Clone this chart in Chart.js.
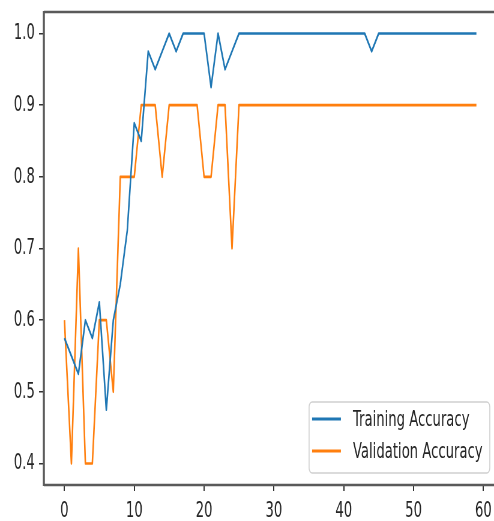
<!DOCTYPE html>
<html>
<head>
<meta charset="utf-8">
<script src="https://cdn.jsdelivr.net/npm/chart.js@4.4.0/dist/chart.umd.min.js"></script>
<style>
html, body { margin: 0; padding: 0; background: #fff; overflow: hidden; }
#box { width: 494px; height: 521px; overflow: hidden; position: relative; }
/* the reference is a horizontally squeezed plot, so draw wide and squeeze to 494px */
#acc { display: block; transform: scaleX(0.60024); transform-origin: 0 0; }
</style>
</head>
<body>
<div id="box"><canvas id="acc" width="823" height="521"></canvas></div>
<script>
var epochs = [0, 1, 2, 3, 4, 5, 6, 7, 8, 9, 10, 11, 12, 13, 14, 15, 16, 17, 18, 19,
  20, 21, 22, 23, 24, 25, 26, 27, 28, 29, 30, 31, 32, 33, 34, 35, 36, 37, 38, 39,
  40, 41, 42, 43, 44, 45, 46, 47, 48, 49, 50, 51, 52, 53, 54, 55, 56, 57, 58, 59];

var trainAcc = [0.575, 0.55, 0.525, 0.6, 0.575, 0.625, 0.475, 0.6, 0.65, 0.725,
  0.875, 0.85, 0.975, 0.95, 0.975, 1.0, 0.975, 1.0, 1.0, 1.0,
  1.0, 0.925, 1.0, 0.95, 0.975, 1.0, 1.0, 1.0, 1.0, 1.0,
  1.0, 1.0, 1.0, 1.0, 1.0, 1.0, 1.0, 1.0, 1.0, 1.0,
  1.0, 1.0, 1.0, 1.0, 0.975, 1.0, 1.0, 1.0, 1.0, 1.0,
  1.0, 1.0, 1.0, 1.0, 1.0, 1.0, 1.0, 1.0, 1.0, 1.0];

var valAcc = [0.6, 0.4, 0.7, 0.4, 0.4, 0.6, 0.6, 0.5, 0.8, 0.8,
  0.8, 0.9, 0.9, 0.9, 0.8, 0.9, 0.9, 0.9, 0.9, 0.9,
  0.8, 0.8, 0.9, 0.9, 0.7, 0.9, 0.9, 0.9, 0.9, 0.9,
  0.9, 0.9, 0.9, 0.9, 0.9, 0.9, 0.9, 0.9, 0.9, 0.9,
  0.9, 0.9, 0.9, 0.9, 0.9, 0.9, 0.9, 0.9, 0.9, 0.9,
  0.9, 0.9, 0.9, 0.9, 0.9, 0.9, 0.9, 0.9, 0.9, 0.9];

var xTicks = [0, 10, 20, 30, 40, 50, 60];
var yTicks = [0.4, 0.5, 0.6, 0.7, 0.8, 0.9, 1.0];

var FONT = { family: 'DejaVu Sans', size: 22 };
var TEXT = '#262626';

function points(ys) {
  return epochs.map(function (e, i) { return { x: e, y: ys[i] }; });
}

function noPad(s) {
  s.paddingTop = 0; s.paddingBottom = 0;
  s.paddingLeft = 0; s.paddingRight = 0;
}

// matplotlib style spines (the right one falls outside the picture)
var frame = {
  id: 'frame',
  afterDatasetsDraw: function (chart) {
    var a = chart.chartArea, c = chart.ctx;
    c.save();
    c.strokeStyle = '#5a5a5a';
    c.lineWidth = 2.5;
    c.beginPath();
    c.moveTo(a.left, a.top); c.lineTo(a.right, a.top);
    c.moveTo(a.left, a.bottom); c.lineTo(a.right, a.bottom);
    c.stroke();
    c.lineWidth = 3.5;
    c.beginPath();
    c.moveTo(a.left, a.top - 1); c.lineTo(a.left, a.bottom + 1);
    c.stroke();
    c.restore();
  }
};

// legend box in the lower right corner of the axes
var boxLegend = {
  id: 'boxLegend',
  afterDraw: function (chart) {
    var a = chart.chartArea, c = chart.ctx;
    var sets = chart.data.datasets;
    c.save();
    c.font = FONT.size + 'px ' + FONT.family;
    var tw = 0;
    sets.forEach(function (d) { tw = Math.max(tw, c.measureText(d.label).width); });
    var w = 73 + tw + 12, h = 71;
    var x = a.right - 7 - w, y = a.bottom - 12 - h;
    c.beginPath();
    c.roundRect(x, y, w, h, 5);
    c.fillStyle = 'rgba(255,255,255,0.85)';
    c.fill();
    c.strokeStyle = '#d0d0d0';
    c.lineWidth = 1.6;
    c.stroke();
    sets.forEach(function (d, i) {
      var ry = y + 17 + i * 32;
      c.strokeStyle = d.borderColor;
      c.lineWidth = 3;
      c.beginPath();
      c.moveTo(x + 5, ry); c.lineTo(x + 53, ry);
      c.stroke();
      c.fillStyle = TEXT;
      c.textBaseline = 'middle';
      c.textAlign = 'left';
      c.fillText(d.label, x + 73, ry + 1);
    });
    c.restore();
  }
};

var ctx = document.getElementById('acc').getContext('2d');
var chart = new Chart(ctx, {
  type: 'line',
  data: {
    datasets: [{
      label: 'Training Accuracy',
      data: points(trainAcc),
      borderColor: '#1f77b4',
      borderWidth: 2.6,
      pointRadius: 0,
      tension: 0,
      borderJoinStyle: 'round'
    }, {
      label: 'Validation Accuracy',
      data: points(valAcc),
      borderColor: '#ff7f0e',
      borderWidth: 2.6,
      pointRadius: 0,
      tension: 0,
      borderJoinStyle: 'round'
    }]
  },
  options: {
    responsive: false,
    animation: false,
    devicePixelRatio: 1,
    layout: { padding: { top: 12, right: 0, left: 0, bottom: 0 } },
    plugins: { legend: { display: false }, tooltip: { enabled: false } },
    scales: {
      x: {
        type: 'linear',
        min: -2.95,
        max: 61.52,
        afterBuildTicks: function (s) { s.ticks = xTicks.map(function (v) { return { value: v }; }); },
        afterFit: function (s) { s.height = 36; noPad(s); },
        border: { display: false },
        grid: { drawOnChartArea: false, drawTicks: true, tickLength: 6, color: '#333', lineWidth: 2 },
        ticks: { font: FONT, color: TEXT, padding: 7, maxRotation: 0, autoSkip: false,
          callback: function (v) { return String(v); } }
      },
      y: {
        min: 0.37,
        max: 1.03,
        afterBuildTicks: function (s) { s.ticks = yTicks.map(function (v) { return { value: v }; }); },
        afterFit: function (s) { s.width = 73; noPad(s); },
        border: { display: false },
        grid: { drawOnChartArea: false, drawTicks: true, tickLength: 8, color: '#333', lineWidth: 1.5 },
        ticks: { font: FONT, color: TEXT, padding: 7,
          callback: function (v) { return v.toFixed(1); } }
      }
    }
  },
  plugins: [frame, boxLegend]
});
</script>
</body>
</html>
